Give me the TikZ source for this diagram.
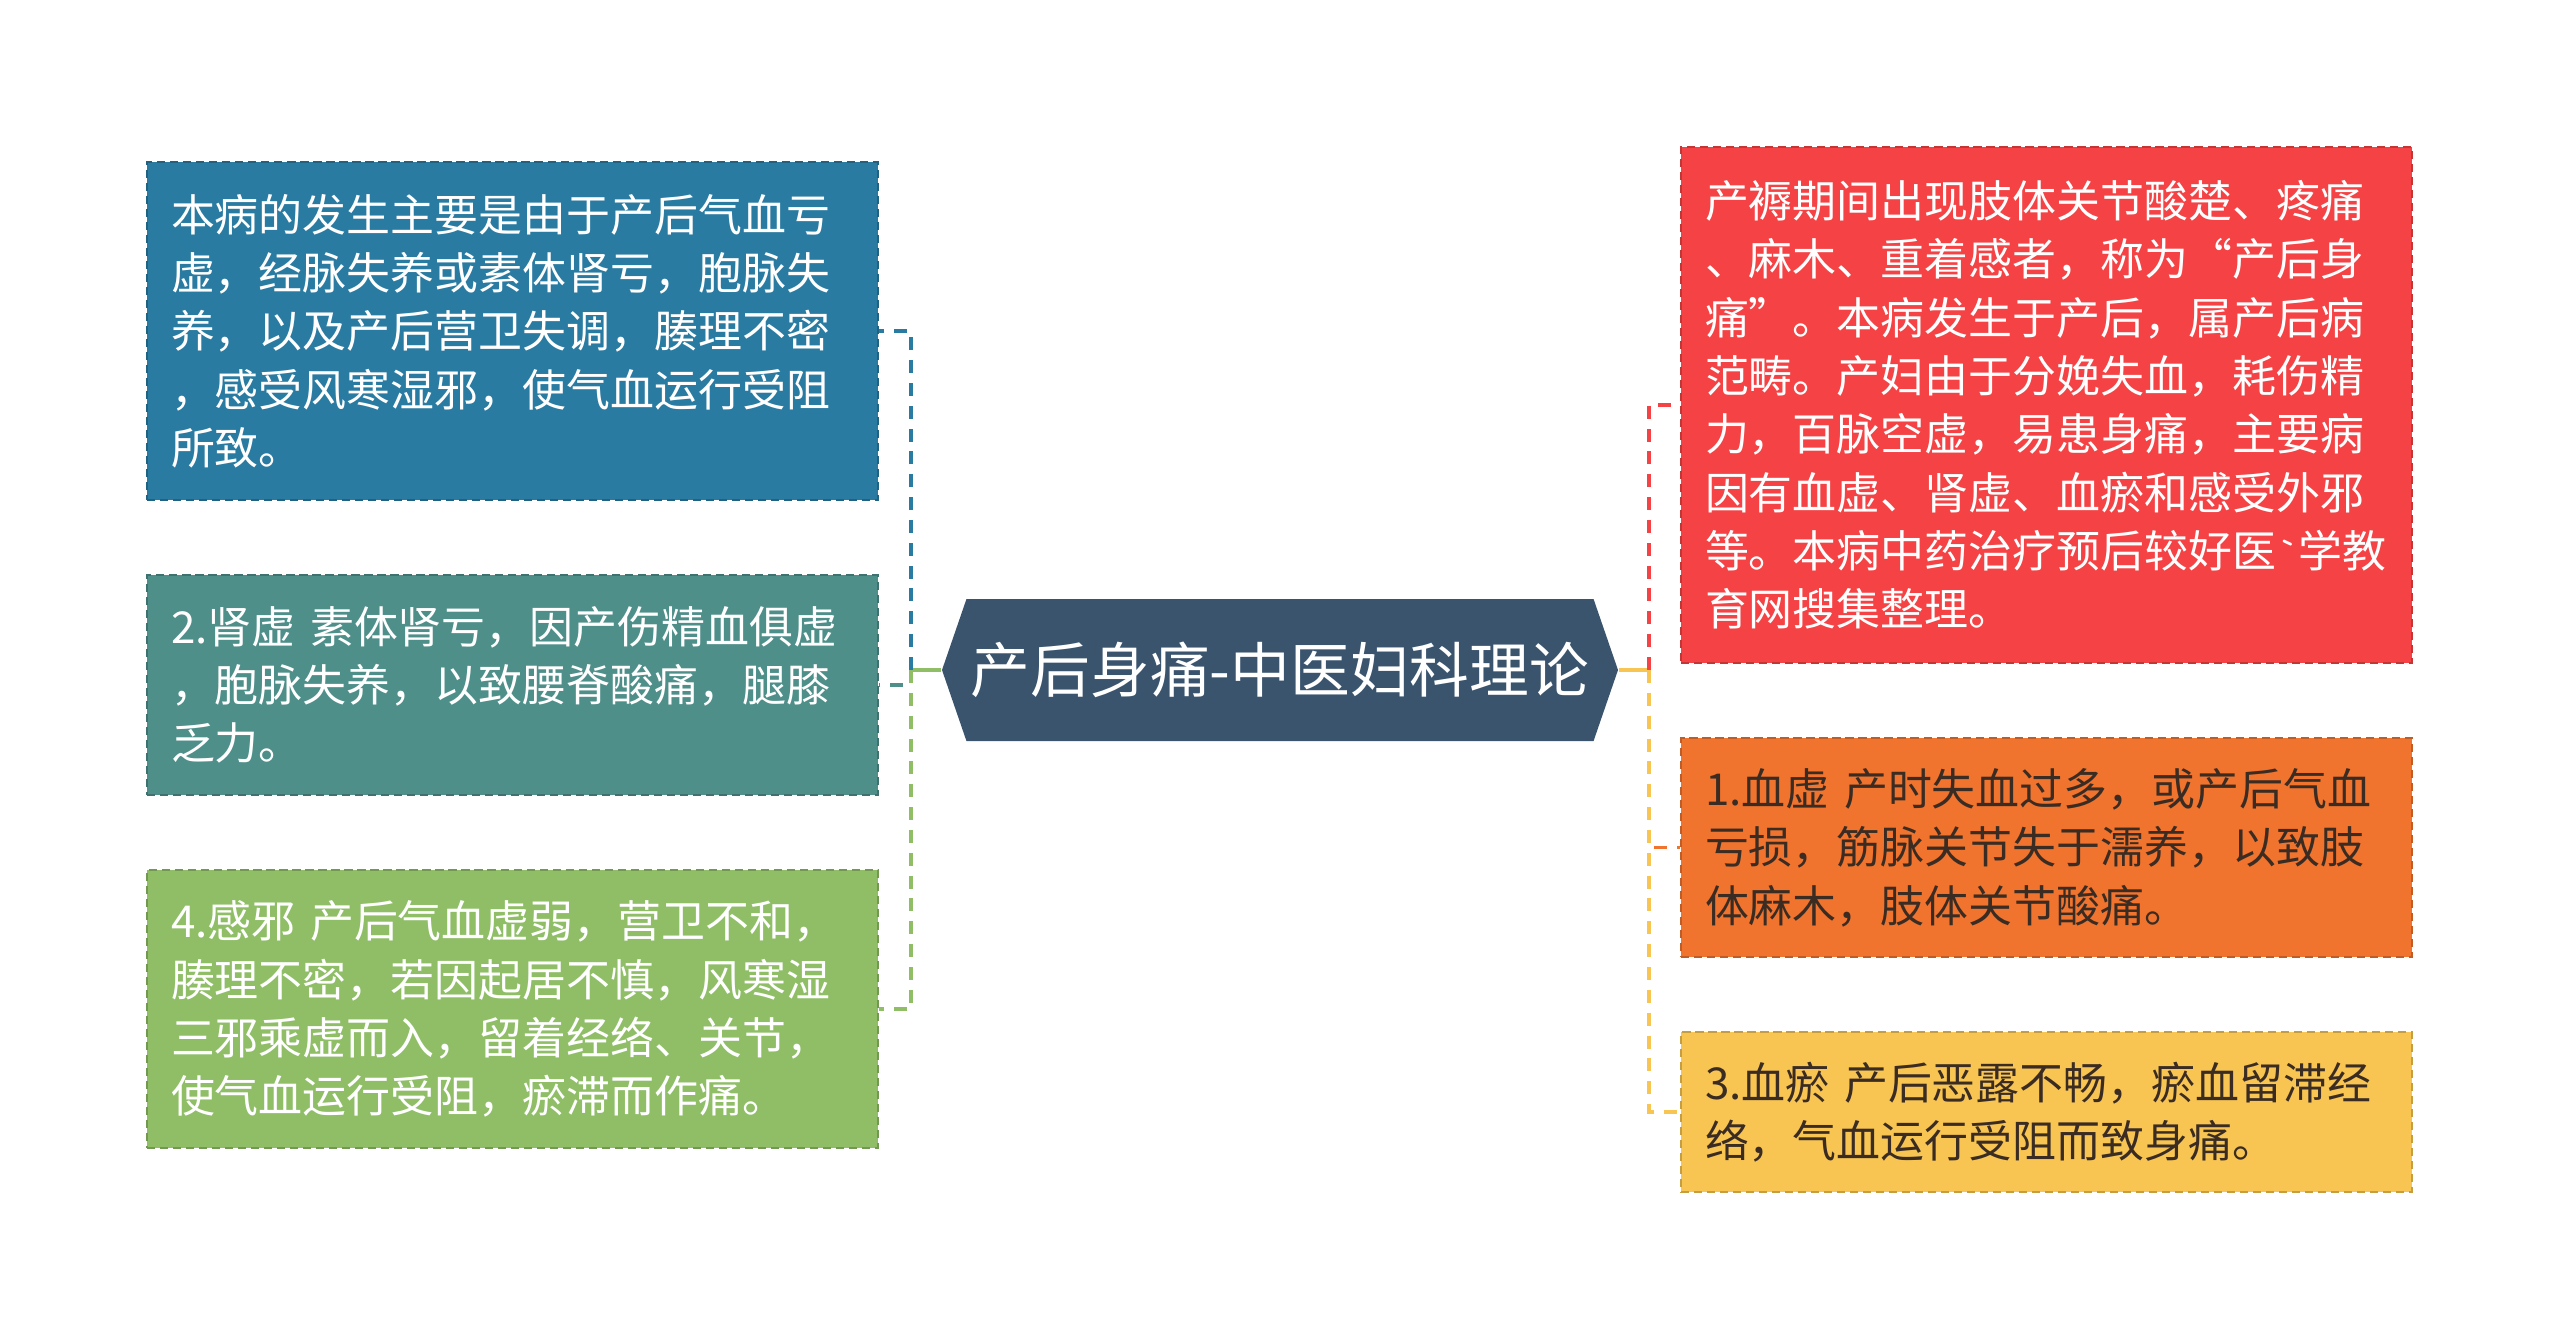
\documentclass[tikz,border=0pt]{standalone}
\usepackage{fontspec}
\setmainfont{Noto Sans CJK SC}
\usetikzlibrary{shapes.symbols}
\definecolor{hubblue}{HTML}{3A546E}
\definecolor{boxblue}{HTML}{2A7BA1}
\definecolor{boxteal}{HTML}{4F8F8A}
\definecolor{boxgreen}{HTML}{8FBE67}
\definecolor{boxred}{HTML}{F54244}
\definecolor{boxorange}{HTML}{F0732E}
\definecolor{boxyellow}{HTML}{F8C552}
\definecolor{darktext}{HTML}{3A2C22}
\tikzset{
  font={\fontsize{12.5pt}{16.6pt}\selectfont}}

\begin{document}
\begin{tikzpicture}[leaf/.style={draw, shape=rectangle, dash pattern=on 2.3pt off 1.4pt, line width=0.6pt, text width=6.83cm, inner xsep=0.24cm, inner ysep=0pt, align=left},
  link/.style={line width=1.1pt, dash pattern=on 3.7pt off 2.8pt}]
  \useasboundingbox (0,0) rectangle (25.6,-13.41);
  \node (hub) [shape=signal, signal to=west and east, signal pointer angle=142, fill=hubblue, text=white, inner sep=0pt, minimum width=6.76cm, minimum height=1.42cm, font={\fontsize{17pt}{20pt}\selectfont}] at (12.80,-6.70) {产后身痛-中医妇科理论};
  \node (blue) [leaf, fill=boxblue, draw=boxblue!80!black, text=white, minimum height=3.38cm] at (5.125,-3.31) {本病的发生主要是由于产后气血亏\\虚，经脉失养或素体肾亏，胞脉失\\养，以及产后营卫失调，腠理不密\\，感受风寒湿邪，使气血运行受阻\\所致。};
  \node (teal) [leaf, fill=boxteal, draw=boxteal!80!black, text=white, minimum height=2.20cm] at (5.125,-6.85) {2.肾虚 素体肾亏，因产伤精血俱虚\\，胞脉失养，以致腰脊酸痛，腿膝\\乏力。};
  \node (green) [leaf, fill=boxgreen, draw=boxgreen!80!black, text=white, minimum height=2.78cm] at (5.125,-10.09) {4.感邪 产后气血虚弱，营卫不和，\\腠理不密，若因起居不慎，风寒湿\\三邪乘虚而入，留着经络、关节，\\使气血运行受阻，瘀滞而作痛。};
  \node (red) [leaf, fill=boxred, draw=boxred!80!black, text=white, minimum height=5.16cm] at (20.465,-4.05) {产褥期间出现肢体关节酸楚、疼痛\\、麻木、重着感者，称为“产后身\\痛”。本病发生于产后，属产后病\\范畴。产妇由于分娩失血，耗伤精\\力，百脉空虚，易患身痛，主要病\\因有血虚、肾虚、血瘀和感受外邪\\等。本病中药治疗预后较好医{\ttfamily\symbol{96}}学教\\育网搜集整理。};
  \node (orange) [leaf, fill=boxorange, draw=boxorange!80!black, text=darktext, minimum height=2.19cm] at (20.465,-8.475) {1.血虚 产时失血过多，或产后气血\\亏损，筋脉关节失于濡养，以致肢\\体麻木，肢体关节酸痛。};
  \node (yellow) [leaf, fill=boxyellow, draw=boxyellow!80!black, text=darktext, minimum height=1.60cm] at (20.465,-11.12) {3.血瘀 产后恶露不畅，瘀血留滞经\\络，气血运行受阻而致身痛。};
  \coordinate (lj) at (9.11,-6.70);
  \coordinate (rj) at (16.49,-6.70);
  \draw[line width=1.1pt, boxgreen] (hub.west) -- (lj);
  \draw[line width=1.1pt, boxyellow] (hub.east) -- (rj);
  \draw[link, boxblue] (lj) |- (blue.east);
  \draw[link, boxteal] (lj) |- (teal.east);
  \draw[link, boxgreen] (lj) |- (green.east);
  \draw[link, boxred] (rj) |- (red.west);
  \draw[link, boxorange] (rj) |- (orange.west);
  \draw[link, boxyellow] (rj) |- (yellow.west);
\end{tikzpicture}
\end{document}
